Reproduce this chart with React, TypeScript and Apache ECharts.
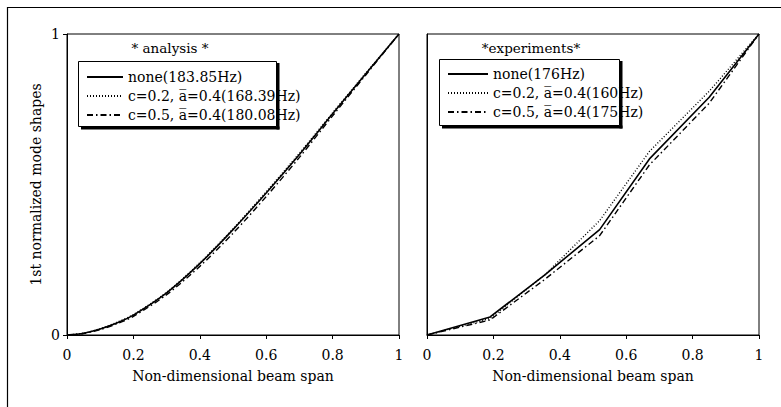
import React, { useEffect, useRef } from "react";
import * as echarts from "echarts";

// Analysis curves (non-dimensional span vs normalized mode shape)
const spanA = [0, 0.05, 0.1, 0.15, 0.2, 0.3, 0.4, 0.5, 0.6, 0.7, 0.8, 0.9, 1];
const anaNone = [0, 0.006, 0.02, 0.04, 0.066, 0.14, 0.237, 0.35, 0.472, 0.6, 0.735, 0.868, 1];
const anaC02 = [0, 0.006, 0.021, 0.042, 0.068, 0.142, 0.24, 0.353, 0.476, 0.604, 0.738, 0.87, 1];
const anaC05 = [0, 0.005, 0.018, 0.037, 0.062, 0.134, 0.228, 0.338, 0.46, 0.59, 0.728, 0.864, 1];

// Experimental curves
const spanE = [0, 0.19, 0.355, 0.52, 0.67, 0.85, 1];
const expNone = [0, 0.06, 0.2, 0.35, 0.585, 0.79, 1];
const expC02 = [0, 0.055, 0.2, 0.38, 0.61, 0.81, 1];
const expC05 = [0, 0.05, 0.185, 0.33, 0.565, 0.77, 1];

const anaNames = ["none(183.85Hz)", "c=0.2, a\u0305=0.4(168.39Hz)", "c=0.5, a\u0305=0.4(180.08Hz)"];
const expNames = ["none(176Hz)", "c=0.2, a\u0305=0.4(160Hz)", "c=0.5, a\u0305=0.4(175Hz)"];

const xTitle = "Non-dimensional beam span";
const yTitle = "1st normalized mode shapes";

const FONT = "DejaVu Serif";

const pairs = (xs: number[], ys: number[]) => xs.map((x, i) => [x, ys[i]]);

const styles = [
  { color: "#000", width: 1.6, type: "solid" as any },
  { color: "#000", width: 1.4, type: [1, 2] as any },
  { color: "#000", width: 1.4, type: [6, 3, 1.5, 3] as any },
];

export default function App() {
  const ref = useRef<HTMLDivElement>(null);
  useEffect(() => {
    if (!ref.current) return;
    const chart = echarts.init(ref.current, undefined, { renderer: "svg" });
    const axisCommon = {
      type: "value",
      min: 0,
      max: 1,
      axisLine: { show: true, lineStyle: { color: "#000", width: 1 } },
      splitLine: { show: false },
    };
    const xAxisFor = (gi: number) => ({
      ...axisCommon,
      gridIndex: gi,
      interval: 0.2,
      axisTick: { show: true, length: 4, lineStyle: { color: "#000" } },
      axisLabel: { color: "#000", fontSize: 14, fontFamily: FONT, margin: 13 },
      name: xTitle,
      nameLocation: "middle",
      nameGap: 34,
      nameTextStyle: { color: "#000", fontSize: 14, fontFamily: FONT },
    });
    const anaSeries = [anaNone, anaC02, anaC05].map((d, i) => ({
      name: anaNames[i],
      type: "line",
      xAxisIndex: 0,
      yAxisIndex: 0,
      data: pairs(spanA, d),
      smooth: 0.3,
      symbol: "none",
      lineStyle: styles[i],
      itemStyle: { color: "#000" },
    }));
    const expSeries = [expNone, expC02, expC05].map((d, i) => ({
      name: expNames[i],
      type: "line",
      xAxisIndex: 1,
      yAxisIndex: 1,
      data: pairs(spanE, d),
      symbol: "none",
      lineStyle: styles[i],
      itemStyle: { color: "#000" },
    }));
    const legendCommon = {
      orient: "vertical",
      padding: 0,
      itemGap: 5,
      itemHeight: 14,
      selectedMode: false,
      itemStyle: { opacity: 0, borderWidth: 0, color: "transparent" },
      textStyle: { color: "#000", fontSize: 14, fontFamily: FONT, lineHeight: 14 },
      z: 10,
    };
    chart.setOption({
      animation: false,
      backgroundColor: "#fff",
      grid: [
        { left: 67, right: 382, top: 34, bottom: 72, show: true, borderColor: "#000", borderWidth: 1 },
        { left: 427, right: 22, top: 34, bottom: 72, show: true, borderColor: "#000", borderWidth: 1 },
      ],
      xAxis: [xAxisFor(0), xAxisFor(1)],
      yAxis: [
        {
          ...axisCommon,
          gridIndex: 0,
          interval: 1,
          axisTick: { show: true, length: 4, lineStyle: { color: "#000" } },
          axisLabel: { color: "#000", fontSize: 14, fontFamily: FONT, margin: 7 },
          name: yTitle,
          nameLocation: "middle",
          nameGap: 24,
          nameTextStyle: { color: "#000", fontSize: 14, fontFamily: FONT },
        },
        {
          ...axisCommon,
          gridIndex: 1,
          interval: 1,
          axisTick: { show: false },
          axisLabel: { show: false },
        },
      ],
      legend: [
        { ...legendCommon, data: anaNames, left: 86, top: 70, itemWidth: 36, itemTextGap: 6 },
        { ...legendCommon, data: expNames, left: 447, top: 67, itemWidth: 40, itemTextGap: 2 },
      ],
      graphic: [
        { type: "rect", shape: { x: 7.5, y: 7.5, width: 800, height: 500 }, style: { fill: "none", stroke: "#000", lineWidth: 1.2 }, z: 0, silent: true },
        // left legend box
        { type: "rect", shape: { x: 78.5, y: 61.5, width: 198, height: 65 }, style: { fill: "#fff", stroke: "#000", lineWidth: 1 }, z: 6, silent: true },
        { type: "rect", shape: { x: 276.5, y: 63, width: 3, height: 66.5 }, style: { fill: "#000" }, z: 12, silent: true },
        { type: "rect", shape: { x: 81, y: 126.5, width: 198.5, height: 3 }, style: { fill: "#000" }, z: 12, silent: true },
        // right legend box
        { type: "rect", shape: { x: 439.5, y: 59.5, width: 180, height: 66 }, style: { fill: "#fff", stroke: "#000", lineWidth: 1 }, z: 6, silent: true },
        { type: "rect", shape: { x: 619.5, y: 61, width: 3, height: 67.5 }, style: { fill: "#000" }, z: 12, silent: true },
        { type: "rect", shape: { x: 442, y: 125.5, width: 180.5, height: 3 }, style: { fill: "#000" }, z: 12, silent: true },
        { type: "text", x: 170, y: 48, style: { text: "* analysis *", fill: "#000", font: `13.5px '${FONT}'`, textAlign: "center", textVerticalAlign: "middle" }, z: 7, silent: true },
        { type: "text", x: 531, y: 48, style: { text: "*experiments*", fill: "#000", font: `13.5px '${FONT}'`, textAlign: "center", textVerticalAlign: "middle" }, z: 7, silent: true },
      ],
      series: [...anaSeries, ...expSeries],
    });
    return () => chart.dispose();
  }, []);
  return <div ref={ref} style={{ width: 781, height: 407, position: "absolute", left: 0, top: 0 }} />;
}
